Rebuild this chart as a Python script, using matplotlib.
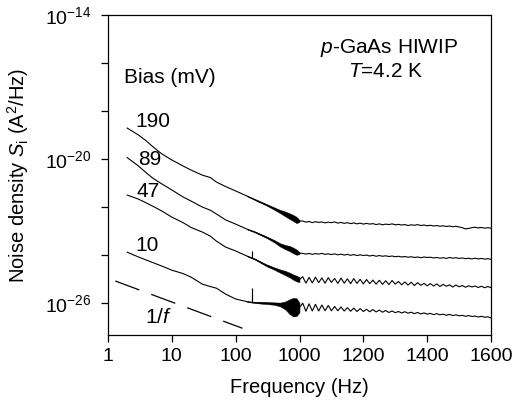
import matplotlib
matplotlib.use('Agg')
import matplotlib.pyplot as plt
import numpy as np

plt.rcParams['font.family'] = ['Liberation Sans', 'DejaVu Sans']
plt.rcParams['mathtext.fontset'] = 'custom'
plt.rcParams['mathtext.rm'] = 'Liberation Sans'
plt.rcParams['mathtext.it'] = 'Liberation Sans:italic'
plt.rcParams['mathtext.bf'] = 'Liberation Sans:bold'

# frequency grid (Hz): log part up to 1000, linear part after (10 Hz steps)
freq_lo = [2, 3, 4, 5, 7, 10, 15, 20, 30, 40, 50, 70, 100, 150, 200, 300, 400, 500,
           600, 700, 800, 900, 1000]
freq_hi = [1010, 1020, 1030, 1040, 1050, 1060, 1070, 1080, 1090, 1100,
           1110, 1120, 1130, 1140, 1150, 1160, 1170, 1180, 1190, 1200,
           1210, 1220, 1230, 1240, 1250, 1260, 1270, 1280, 1290, 1300,
           1310, 1320, 1330, 1340, 1350, 1360, 1370, 1380, 1390, 1400,
           1410, 1420, 1430, 1440, 1450, 1460, 1470, 1480, 1490, 1500,
           1510, 1520, 1530, 1540, 1550, 1560, 1570, 1580, 1590, 1600]

# log10 of noise density (A^2/Hz) for each bias
s190_lo = [-18.71, -19.00, -19.25, -19.48, -19.79, -20.04, -20.29, -20.46, -20.67, -20.77,
           -20.96, -21.15, -21.33, -21.54, -21.69, -21.90, -22.06, -22.19, -22.29, -22.38,
           -22.46, -22.54, -22.58]
s190_hi = [-22.58, -22.63, -22.60, -22.65, -22.61, -22.64, -22.62, -22.66, -22.63, -22.65,
           -22.62, -22.67, -22.64, -22.68, -22.65, -22.69, -22.66, -22.70, -22.67, -22.71,
           -22.68, -22.71, -22.69, -22.73, -22.70, -22.74, -22.71, -22.73, -22.70, -22.74,
           -22.72, -22.75, -22.73, -22.77, -22.74, -22.76, -22.73, -22.77, -22.75, -22.78,
           -22.76, -22.79, -22.77, -22.80, -22.78, -22.81, -22.79, -22.82, -22.80, -22.83,
           -22.86, -22.91, -22.89, -22.86, -22.84, -22.87, -22.85, -22.88, -22.86, -22.88]
s89_lo = [-19.94, -20.29, -20.58, -20.79, -21.04, -21.29, -21.58, -21.75, -22.00, -22.13,
          -22.29, -22.54, -22.71, -22.92, -23.04, -23.25, -23.42, -23.58, -23.67, -23.73,
          -23.81, -23.88, -23.92]
s89_hi = [-23.93, -23.96, -23.93, -23.97, -23.94, -23.96, -23.93, -23.97, -23.95, -23.98,
          -23.95, -23.99, -23.96, -24.00, -23.97, -24.01, -23.98, -24.02, -23.99, -24.02,
          -24.00, -24.04, -24.01, -24.05, -24.02, -24.05, -24.03, -24.06, -24.04, -24.07,
          -24.05, -24.08, -24.06, -24.09, -24.07, -24.10, -24.08, -24.11, -24.08, -24.10,
          -24.09, -24.12, -24.10, -24.13, -24.11, -24.14, -24.10, -24.13, -24.11, -24.14,
          -24.12, -24.15, -24.13, -24.16, -24.13, -24.16, -24.14, -24.17, -24.15, -24.18]
s47_lo = [-21.50, -21.67, -21.83, -21.96, -22.17, -22.42, -22.65, -22.85, -23.04, -23.21,
          -23.42, -23.67, -23.83, -24.04, -24.17, -24.42, -24.56, -24.67, -24.75, -24.83,
          -24.92, -24.98, -25.02]
s47_hi = [-24.90, -25.17, -24.93, -25.16, -24.92, -25.15, -24.95, -25.17, -24.94, -25.14,
          -24.97, -25.18, -24.96, -25.17, -24.99, -25.19, -24.98, -25.18, -25.01, -25.20,
          -25.02, -25.19, -25.04, -25.21, -25.05, -25.22, -25.07, -25.23, -25.06, -25.21,
          -25.10, -25.24, -25.12, -25.25, -25.13, -25.27, -25.15, -25.26, -25.18, -25.28,
          -25.19, -25.29, -25.20, -25.31, -25.22, -25.30, -25.24, -25.33, -25.25, -25.32,
          -25.27, -25.34, -25.28, -25.33, -25.29, -25.35, -25.30, -25.36, -25.31, -25.36]
s10_lo = [-23.88, -24.08, -24.21, -24.31, -24.46, -24.63, -24.77, -24.92, -25.21, -25.31,
          -25.38, -25.63, -25.83, -25.94, -25.98, -26.00, -26.02, -26.06, -26.10, -26.15,
          -26.17, -26.17, -26.19]
s10_hi = [-26.00, -26.34, -26.03, -26.33, -26.05, -26.33, -26.08, -26.32, -26.10, -26.32,
          -26.14, -26.32, -26.16, -26.33, -26.19, -26.34, -26.21, -26.35, -26.23, -26.35,
          -26.26, -26.36, -26.27, -26.37, -26.29, -26.38, -26.31, -26.39, -26.33, -26.40,
          -26.35, -26.41, -26.36, -26.42, -26.38, -26.44, -26.39, -26.45, -26.41, -26.46,
          -26.43, -26.48, -26.44, -26.49, -26.46, -26.51, -26.47, -26.52, -26.49, -26.53,
          -26.51, -26.55, -26.52, -26.56, -26.54, -26.58, -26.55, -26.59, -26.57, -26.62]

# noisy band (half width in decades) between 150 and 1000 Hz
band_freq = [150, 200, 300, 400, 500, 600, 700, 800, 900, 1000]
band_190 = [0.01, 0.02, 0.03, 0.05, 0.07, 0.10, 0.12, 0.13, 0.13, 0.04]
band_89 = [0.01, 0.02, 0.03, 0.05, 0.07, 0.09, 0.11, 0.12, 0.11, 0.04]
band_47 = [0.01, 0.02, 0.04, 0.05, 0.07, 0.09, 0.10, 0.11, 0.12, 0.10]
band_10 = [0.01, 0.02, 0.04, 0.05, 0.08, 0.17, 0.31, 0.39, 0.37, 0.20]

# spike near 178 Hz (base, top) in log10
spike_freq = 178
spike_47 = [-24.11, -23.83]
spike_10 = [-25.96, -25.38]

# 1/f guide line
one_f_freq = [1.3, 128]
one_f_log = [-25.08, -27.05]

bias_labels = ['190', '89', '47', '10']
y_ticks = [1e-26, 1e-24, 1e-22, 1e-20, 1e-18, 1e-16, 1e-14]
y_ticklabels = [r'$10^{-26}$', '', '', r'$10^{-20}$', '', '', r'$10^{-14}$']
x_ticks = [1, 10, 100, 1000, 1200, 1400, 1600]


# x axis: log up to 1000 Hz then linear to 1600 Hz
def fwd(f):
    f = np.asarray(f, dtype=float)
    return np.log10(np.clip(f, 1e-6, 1000)) + np.clip(f - 1000, 0, None) / 200.0


def inv(u):
    u = np.asarray(u, dtype=float)
    return np.where(u <= 3, 10 ** np.minimum(u, 3), 1000 + 200 * (u - 3))


fig = plt.figure(figsize=(5.16, 4.05), dpi=100)
ax = fig.add_axes([0.2093, 0.1728, 0.7423, 0.7902])
ax.set_xscale('function', functions=(fwd, inv))
ax.set_yscale('log')

f = np.array(freq_lo + freq_hi)
bf = np.array(band_freq)
i0 = freq_lo.index(band_freq[0])
curves = [(s190_lo, s190_hi, band_190), (s89_lo, s89_hi, band_89),
          (s47_lo, s47_hi, band_47), (s10_lo, s10_hi, band_10)]
for lo, hi, band in curves:
    s = np.array(lo + hi)
    ax.plot(f, 10.0 ** s, color='black', lw=0.8)
    c = s[i0:i0 + len(band_freq)]
    w = np.array(band)
    ax.fill_between(bf, 10.0 ** (c - w), 10.0 ** (c + w), color='black', lw=0.3)

for sp in [spike_47, spike_10]:
    ax.vlines(spike_freq, 10.0 ** sp[0], 10.0 ** sp[1], color='black', lw=0.85)

ax.plot(one_f_freq, 10.0 ** np.array(one_f_log), color='black', lw=0.9,
        dashes=(20.5, 10.2))

ax.set_xlim(1, 1600)
ax.set_ylim(10 ** -27.33, 1e-14)
ax.set_xticks(x_ticks)
ax.set_xticklabels([str(t) for t in x_ticks])
ax.set_yticks(y_ticks)
ax.set_yticklabels(y_ticklabels)
ax.yaxis.set_minor_locator(matplotlib.ticker.NullLocator())
ax.xaxis.set_minor_locator(matplotlib.ticker.NullLocator())
ax.tick_params(direction='out', length=5, width=0.9, labelsize=14)
ax.tick_params(axis='x', pad=4)
ax.tick_params(axis='y', pad=7)
for sp in ax.spines.values():
    sp.set_linewidth(0.9)

ax.set_xlabel('Frequency (Hz)', fontsize=14.5)
ax.set_ylabel(r'Noise density $S_\mathrm{i}$ (A$^2$/Hz)', fontsize=14.5)
ax.xaxis.set_label_coords(0.5, -0.134)
ax.yaxis.set_label_coords(-0.20, 0.5)

# curve labels
label_pos = [(0.116, 0.666), (0.110, 0.547), (0.106, 0.447), (0.103, 0.281)]
for txt, (lx, ly) in zip(bias_labels, label_pos):
    ax.text(lx, ly, txt, transform=ax.transAxes, ha='center', va='center', fontsize=15)
ax.text(0.133, 0.056, r'1/$f$', transform=ax.transAxes, ha='center', va='center', fontsize=15)
ax.text(0.162, 0.806, 'Bias (mV)', transform=ax.transAxes, ha='center', va='center', fontsize=15)
ax.text(0.734, 0.897, r'$p$-GaAs HIWIP', transform=ax.transAxes, ha='center', va='center', fontsize=15)
ax.text(0.726, 0.822, r'$T$=4.2 K', transform=ax.transAxes, ha='center', va='center', fontsize=15)

fig.savefig('out.png', dpi=100)
